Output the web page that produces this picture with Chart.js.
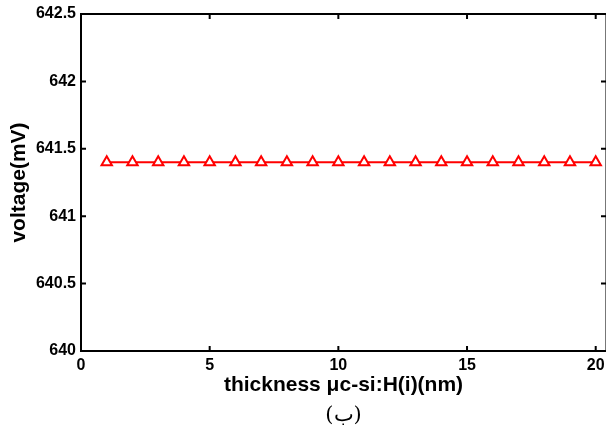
<!DOCTYPE html>
<html>
<head>
<meta charset="utf-8">
<script src="https://cdn.jsdelivr.net/npm/chart.js@4/dist/chart.umd.min.js"></script>
<style>
  html, body { margin: 0; padding: 0; background: #fff; }
  #wrap { width: 608px; height: 432px; position: relative; }
</style>
</head>
<body>
<div id="wrap"><canvas id="chart" width="608" height="432"></canvas></div>
<script>
// data
const thickness = [1, 2, 3, 4, 5, 6, 7, 8, 9, 10, 11, 12, 13, 14, 15, 16, 17, 18, 19, 20];
const voltage = [641.4, 641.4, 641.4, 641.4, 641.4, 641.4, 641.4, 641.4, 641.4, 641.4,
                 641.4, 641.4, 641.4, 641.4, 641.4, 641.4, 641.4, 641.4, 641.4, 641.4];
const xTicks = [0, 5, 10, 15, 20];
const yTicks = [640, 640.5, 641, 641.5, 642, 642.5];
const xTitle = 'thickness μc-si:H(i)(nm)';
const yTitle = 'voltage(mV)';
const caption = '(ب)';

// box around the plot, ticks pointing inward, caption under the axis title
const framePlugin = {
  id: 'frame',
  afterDraw(chart) {
    const { ctx, chartArea: a, scales } = chart;
    ctx.save();
    ctx.strokeStyle = '#000';
    ctx.lineWidth = 2;
    ctx.beginPath();
    ctx.moveTo(a.right, a.top);
    ctx.lineTo(a.left, a.top);
    ctx.lineTo(a.left, a.bottom);
    ctx.lineTo(a.right, a.bottom);
    ctx.stroke();
    ctx.strokeStyle = '#777';
    ctx.lineWidth = 1;
    ctx.beginPath();
    ctx.moveTo(a.right - 0.5, a.top);
    ctx.lineTo(a.right - 0.5, a.bottom);
    ctx.stroke();

    ctx.strokeStyle = '#000';
    ctx.lineWidth = 2;
    ctx.beginPath();
    xTicks.forEach(v => {
      const px = scales.x.getPixelForValue(v);
      ctx.moveTo(px, a.bottom); ctx.lineTo(px, a.bottom - 5);
      ctx.moveTo(px, a.top); ctx.lineTo(px, a.top + 5);
    });
    yTicks.forEach(v => {
      const py = scales.y.getPixelForValue(v);
      ctx.moveTo(a.left, py); ctx.lineTo(a.left + 5, py);
      ctx.moveTo(a.right, py); ctx.lineTo(a.right - 5, py);
    });
    ctx.stroke();

    ctx.fillStyle = '#000';
    ctx.font = '21px "DejaVu Serif", "Liberation Serif", serif';
    ctx.textAlign = 'center';
    ctx.textBaseline = 'middle';
    ctx.fillText(caption, (a.left + a.right) / 2, 416);
    ctx.restore();
  }
};

const tickFont = { family: 'Liberation Sans, Arial, sans-serif', size: 16, weight: 'bold' };
const titleFont = { family: 'Liberation Sans, Arial, sans-serif', size: 21, weight: 'bold' };

new Chart(document.getElementById('chart').getContext('2d'), {
  type: 'line',
  data: {
    labels: thickness,
    datasets: [{
      data: thickness.map((t, i) => ({ x: t, y: voltage[i] })),
      borderColor: '#ff0000',
      borderWidth: 2,
      pointStyle: 'triangle',
      pointRadius: 6,
      pointBorderWidth: 2,
      pointBorderColor: '#ff0000',
      pointBackgroundColor: '#ffffff',
      tension: 0
    }]
  },
  options: {
    responsive: false,
    animation: false,
    layout: { autoPadding: false, padding: { left: 0, top: 14, right: 2, bottom: 0 } },
    plugins: { legend: { display: false }, tooltip: { enabled: false } },
    scales: {
      x: {
        type: 'linear',
        min: 0,
        max: 20.4,
        grid: { display: false, drawTicks: false },
        border: { display: false },
        afterBuildTicks: s => { s.ticks = xTicks.map(v => ({ value: v })); },
        afterFit: s => { s.height = 81; s.paddingLeft = 0; s.paddingRight = 0; },
        ticks: { color: '#000', font: tickFont, padding: 5, maxRotation: 0 },
        title: { display: true, text: xTitle, color: '#000', font: titleFont, padding: { top: 0, bottom: 34 } }
      },
      y: {
        min: 640,
        max: 642.5,
        grid: { display: false, drawTicks: false },
        border: { display: false },
        afterBuildTicks: s => { s.ticks = yTicks.map(v => ({ value: v })); },
        afterFit: s => { s.width = 81; s.paddingTop = 0; s.paddingBottom = 0; },
        ticks: { color: '#000', font: tickFont, padding: 5, callback: v => String(v) },
        title: { display: true, text: yTitle, color: '#000', font: titleFont, padding: { top: 7, bottom: 0 } }
      }
    }
  },
  plugins: [framePlugin]
});
</script>
</body>
</html>
